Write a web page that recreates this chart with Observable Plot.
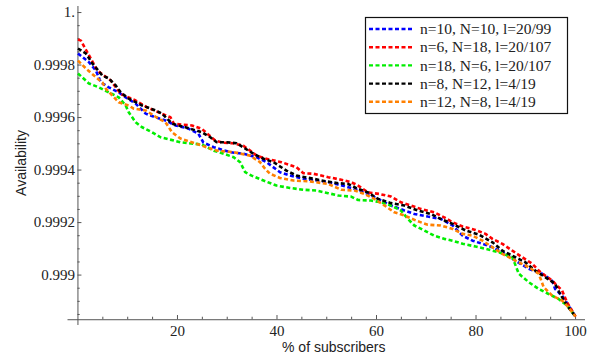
<!DOCTYPE html>
<html><head><meta charset="utf-8">
<script src="https://cdn.jsdelivr.net/npm/d3@7"></script>
<script src="https://cdn.jsdelivr.net/npm/@observablehq/plot@0.6"></script>
<style>body{margin:0;background:#fff}#chart{width:593px;height:356px}</style>
</head><body><div id="chart"></div>
<script>
const seriesNames = ["n=10, N=10, l=20/99","n=6, N=18, l=20/107","n=18, N=6, l=20/107","n=8, N=12, l=4/19","n=12, N=8, l=4/19"];
const seriesColors = ["#0000ff","#ff0000","#00ee00","#000000","#ff8000"];

const blue = [[0,.999844],[2.2,.999811],[3.6,.999779],[4.6,.999734],[6.2,.999715],[8.2,.999696],[9.6,.999677],[11.6,.999653],[13.6,.999615],[15.6,.999601],[17.6,.999589],[19.6,.999570],[22.2,.999558],[24.2,.999539],[25.2,.999505],[27.3,.999487],[30.6,.999468],[33.3,.999462],[35.9,.999449],[37.9,.999430],[40.6,.999392],[42.6,.999379],[45.3,.999367],[47.9,.999360],[50.3,.999354],[52.3,.999345],[55.6,.999328],[58.3,.999309],[60.3,.999290],[62.9,.999265],[65.6,.999246],[67.6,.999233],[70.3,.999223],[72.9,.999214],[75.3,.999189],[77.3,.999150],[79.3,.999131],[81.3,.999119],[83.3,.999106],[85.3,.999087],[87.9,.999055],[90.6,.999024],[93.3,.999005],[95.3,.998979],[95.9,.998947],[97.3,.998922],[98.6,.998884],[100,.998842]];
const red = [[0,.999897],[0.6,.999893],[2.6,.999824],[3.9,.999779],[6.6,.999741],[8.6,.999690],[11.6,.999665],[13.9,.999639],[16.9,.999614],[18.6,.999601],[19.3,.999576],[22.9,.999570],[24.9,.999557],[27.6,.999512],[29.2,.999504],[31.2,.999502],[33.2,.999493],[34.6,.999474],[35.9,.999455],[37.9,.999443],[40.9,.999430],[43.9,.999411],[45.3,.999388],[47.3,.999386],[50.3,.999373],[52.9,.999363],[54.9,.999354],[56.3,.999341],[58.3,.999315],[60.6,.999309],[62.9,.999299],[64.9,.999277],[66.9,.999265],[68.9,.999252],[71.6,.999239],[73.6,.999220],[75.3,.999201],[77.3,.999185],[79.9,.999172],[81.9,.999157],[83.3,.999138],[85.3,.999119],[87.3,.999093],[89.3,.999068],[91.3,.999043],[92.6,.999017],[93.9,.998998],[95.3,.998979],[97.3,.998941],[98.3,.998896],[100,.998842]];
const green = [[0,.999768],[2.2,.999730],[4.2,.999715],[6.2,.999696],[8.2,.999677],[9.6,.999646],[10.2,.999620],[11.6,.999582],[12.9,.999563],[14.9,.999544],[16.6,.999525],[20.6,.999506],[24.9,.999497],[27.3,.999474],[29.3,.999462],[31.3,.999449],[32.6,.999430],[33.6,.999392],[34.9,.999379],[37.3,.999360],[39.9,.999341],[42.6,.999332],[45.3,.999325],[47.9,.999322],[50.3,.999312],[52.3,.999303],[54.9,.999299],[56.3,.999286],[58.9,.999284],[60.9,.999277],[62.9,.999265],[64.9,.999246],[66.3,.999214],[67.6,.999189],[69.6,.999170],[71.6,.999150],[73.6,.999138],[75.3,.999131],[77.3,.999119],[79.9,.999109],[81.9,.999100],[84.6,.999087],[87.3,.999068],[88.6,.999005],[90.6,.998973],[92.6,.998947],[94.6,.998928],[96.6,.998909],[98.3,.998884],[100,.998842]];
const black = [[0,.999863],[1.6,.999844],[2.9,.999806],[4.9,.999760],[6.2,.999749],[7.6,.999722],[8.6,.999696],[10.2,.999672],[12.9,.999646],[15.6,.999627],[16.9,.999615],[18.9,.999577],[21.6,.999563],[24.9,.999544],[26.6,.999525],[27.9,.999506],[29.9,.999506],[31.9,.999502],[35.3,.999462],[37.3,.999443],[39.3,.999430],[41.9,.999398],[43.9,.999379],[47.3,.999367],[49.9,.999357],[52.3,.999350],[54.3,.999347],[56.3,.999328],[58.3,.999315],[60.3,.999290],[62.9,.999274],[65.6,.999265],[68.3,.999246],[70.9,.999233],[72.9,.999214],[75.3,.999195],[77.9,.999170],[80.6,.999154],[83.3,.999125],[85.3,.999093],[87.9,.999068],[89.9,.999049],[91.9,.999017],[93.9,.998992],[95.9,.998967],[96.9,.998928],[98.3,.998884],[100,.998842]];
const orange = [[0,.999817],[1.6,.999787],[3.6,.999754],[4.9,.999734],[5.6,.999710],[6.9,.999684],[8.2,.999658],[10.2,.999646],[11.2,.999634],[13.6,.999627],[16.2,.999596],[17.6,.999582],[18.9,.999544],[20.6,.999520],[24.9,.999493],[27.9,.999474],[31.3,.999468],[34.6,.999455],[36.6,.999430],[37.6,.999405],[38.6,.999386],[40.6,.999370],[43.3,.999360],[46.6,.999357],[50.3,.999347],[52.9,.999325],[55.6,.999322],[57.6,.999309],[59.6,.999290],[61.6,.999265],[63.6,.999239],[65.6,.999227],[68.3,.999205],[70.3,.999192],[72.9,.999189],[75.3,.999176],[77.3,.999157],[79.3,.999150],[81.3,.999131],[83.3,.999106],[85.3,.999081],[87.9,.999055],[90.6,.999030],[92.6,.999005],[93.6,.998954],[95.3,.998922],[97.3,.998903],[98.6,.998877],[100,.998842]];

const yTicks = [0.999,0.9992,0.9994,0.9996,0.9998,1.0];
const yTickLabels = ["0.999","0.9992","0.9994","0.9996","0.9998","1."];
const yMinor = [0.99885,0.9989,0.99895,0.99905,0.9991,0.99915,0.99925,0.9993,0.99935,0.99945,0.9995,0.99955,0.99965,0.9997,0.99975,0.99985,0.9999,0.99995];
const xTicks = [20,40,60,80,100];
const xMinor = [5,10,15,25,30,35,45,50,55,65,70,75,85,90,95];
const xAxisAt = 0.99883;

const allSeries = [blue, red, green, black, orange];
const serif = "Liberation Serif, Times New Roman, serif";
const sans = "Liberation Sans, Arial, sans-serif";
const axisColor = "#555";
const dx1 = 0.8, dxm = 0.45;
const dy1 = 0.0000160, dym = 0.0000095;

const marks = [
  Plot.ruleY([xAxisAt], {stroke: axisColor, strokeWidth: 1}),
  Plot.ruleX([0], {stroke: axisColor, strokeWidth: 1}),
  Plot.ruleY(yTicks, {x1: 0, x2: dx1, y: d => d, stroke: axisColor}),
  Plot.ruleY(yMinor, {x1: 0, x2: dxm, y: d => d, stroke: axisColor}),
  Plot.ruleX(xTicks, {x: d => d, y1: xAxisAt, y2: xAxisAt + dy1, stroke: axisColor}),
  Plot.ruleX(xMinor, {x: d => d, y1: xAxisAt, y2: xAxisAt + dym, stroke: axisColor}),
  Plot.text(yTicks, {x: 0, y: d => d, text: (d, i) => yTickLabels[i], textAnchor: "end", dx: -3, fontFamily: serif, fontSize: 15, fill: "#222"}),
  Plot.text(xTicks, {x: d => d, y: xAxisAt, text: d => String(d), dy: 11, fontFamily: serif, fontSize: 15, fill: "#222"}),
  Plot.text(["% of subscribers"], {frameAnchor: "bottom", textAnchor: "middle", lineAnchor: "middle", dx: 7, dy: 22, fontFamily: sans, fontSize: 14, fill: "#222"}),
  Plot.text(["Availability"], {frameAnchor: "left", textAnchor: "middle", lineAnchor: "middle", rotate: -90, dx: -46, dy: -3, fontFamily: sans, fontSize: 14, fill: "#222"})
];
allSeries.forEach((s, i) => {
  marks.push(Plot.line(s, {x: d => d[0], y: d => d[1], stroke: seriesColors[i], strokeWidth: 2.6, strokeDasharray: "4,2.5", strokeLinecap: "butt", strokeLinejoin: "miter"}));
});

const plot = Plot.plot({
  width: 593, height: 356,
  marginLeft: 67.5, marginRight: 8, marginTop: 6, marginBottom: 31,
  x: {domain: [-2, 102], axis: null},
  y: {domain: [0.998808, 1.000023], axis: null},
  style: {background: "white"},
  marks
});

const svg = d3.select(plot);
const lg = svg.append("g").attr("text-anchor", "start");
lg.append("rect").attr("x", 365.5).attr("y", 17.5).attr("width", 202).attr("height", 96)
  .attr("fill", "white").attr("stroke", "#111").attr("stroke-width", 1.2);
seriesNames.forEach((n, i) => {
  const y = 29 + i * 18.2;
  lg.append("line").attr("x1", 369).attr("x2", 413).attr("y1", y).attr("y2", y)
    .attr("stroke", seriesColors[i]).attr("stroke-width", 2.4).attr("stroke-dasharray", "4,2.5")
    .attr("stroke-linecap", "butt");
  lg.append("text").attr("x", 420).attr("y", y).attr("dy", "0.33em").attr("text-anchor", "start")
    .attr("font-family", serif).attr("font-size", 15.5).attr("fill", "#222").text(n);
});
document.getElementById("chart").appendChild(plot);
</script>
</body></html>
